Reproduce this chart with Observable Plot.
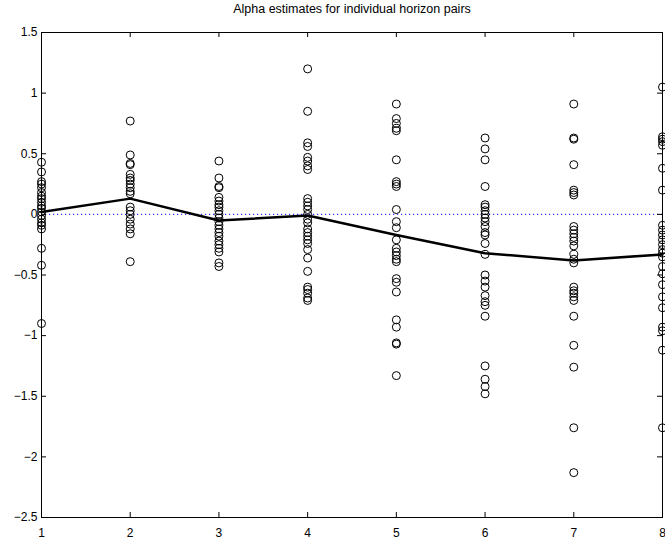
<!DOCTYPE html>
<html>
<head>
<meta charset="utf-8">
<script src="https://cdn.jsdelivr.net/npm/d3@7"></script>
<script src="https://cdn.jsdelivr.net/npm/@observablehq/plot@0.6"></script>
<style>body{margin:0;background:#fff}</style>
</head>
<body>
<div id="chart"></div>
<script>
const title = "Alpha estimates for individual horizon pairs";
const horizons = [1, 2, 3, 4, 5, 6, 7, 8];
const xTicks = [1, 2, 3, 4, 5, 6, 7, 8];
const yTicks = [-2.5, -2, -1.5, -1, -0.5, 0, 0.5, 1, 1.5];

const alpha1 = [0.43, 0.35, 0.27, 0.25, 0.22, 0.18, 0.15, 0.13, 0.10, 0.07, 0.05, 0.02, -0.01, -0.04, -0.07, -0.09, -0.12, -0.28, -0.42, -0.90];
const alpha2 = [0.77, 0.49, 0.42, 0.41, 0.33, 0.30, 0.28, 0.25, 0.22, 0.19, 0.17, 0.06, 0.03, 0.00, -0.04, -0.08, -0.12, -0.16, -0.39];
const alpha3 = [0.44, 0.30, 0.23, 0.22, 0.14, 0.11, 0.08, 0.06, 0.03, 0.00, -0.03, -0.06, -0.09, -0.12, -0.15, -0.18, -0.22, -0.25, -0.28, -0.31, -0.40, -0.43];
const alpha4 = [1.20, 0.85, 0.59, 0.56, 0.47, 0.44, 0.40, 0.37, 0.13, 0.10, 0.07, 0.04, 0.00, -0.04, -0.07, -0.12, -0.15, -0.18, -0.21, -0.24, -0.29, -0.36, -0.47, -0.60, -0.62, -0.65, -0.69, -0.71];
const alpha5 = [0.91, 0.79, 0.75, 0.71, 0.69, 0.45, 0.27, 0.25, 0.23, 0.04, -0.06, -0.11, -0.21, -0.28, -0.31, -0.34, -0.37, -0.39, -0.53, -0.56, -0.64, -0.87, -0.93, -1.06, -1.07, -1.33];
const alpha6 = [0.63, 0.54, 0.45, 0.23, 0.08, 0.06, 0.03, 0.00, -0.03, -0.06, -0.10, -0.15, -0.17, -0.24, -0.33, -0.50, -0.55, -0.60, -0.67, -0.72, -0.75, -0.84, -1.25, -1.36, -1.42, -1.48];
const alpha7 = [0.91, 0.63, 0.62, 0.41, 0.20, 0.18, 0.16, -0.10, -0.13, -0.16, -0.19, -0.22, -0.26, -0.33, -0.37, -0.40, -0.60, -0.63, -0.65, -0.68, -0.71, -0.84, -1.08, -1.26, -1.76, -2.13];
const alpha8 = [1.05, 0.64, 0.62, 0.60, 0.57, 0.38, 0.20, -0.09, -0.13, -0.17, -0.21, -0.25, -0.29, -0.32, -0.35, -0.43, -0.49, -0.58, -0.68, -0.77, -0.93, -0.96, -1.12, -1.76];
const meanAlpha = [0.02, 0.13, -0.05, -0.01, -0.17, -0.32, -0.38, -0.33];

const columns = [alpha1, alpha2, alpha3, alpha4, alpha5, alpha6, alpha7, alpha8];
const points = columns.flatMap((vals, i) => vals.map(v => ({h: horizons[i], a: v})));
const means = horizons.map((h, i) => ({h, a: meanAlpha[i]}));

const W = 665, H = 539, mt = 32, mb = 22, ml = 41, mr = 3;
const fw = W - ml - mr, fh = H - mt - mb;
const fmt = d => d < 0 ? "\u2212" + Math.abs(d) : String(d);

const chart = Plot.plot({
  width: W, height: H,
  marginTop: mt, marginBottom: mb, marginLeft: ml, marginRight: mr,
  style: {fontFamily: "'Liberation Sans', Arial, sans-serif", fontSize: "12px", background: "white", color: "black"},
  x: {domain: [1, 8]},
  y: {domain: [-2.5, 1.5]},
  marks: [
    Plot.ruleY([0], {stroke: "#3333ff", strokeWidth: 1.2, strokeDasharray: "1.2,2.8"}),
    Plot.dot(points, {x: "h", y: "a", r: 4, stroke: "black", strokeWidth: 1, fill: "none"}),
    Plot.line(means, {x: "h", y: "a", stroke: "black", strokeWidth: 2.5}),
    Plot.frame({stroke: "black"}),
    Plot.tickX(xTicks, {x: d => d, insetTop: fh - 5}),
    Plot.tickX(xTicks, {x: d => d, insetBottom: fh - 5}),
    Plot.tickY(yTicks, {y: d => d, insetRight: fw - 5}),
    Plot.tickY(yTicks, {y: d => d, insetLeft: fw - 5}),
    Plot.axisX(xTicks, {tickSize: 0, tickPadding: 11, tickFormat: d => String(d), label: null}),
    Plot.axisY(yTicks, {tickSize: 0, tickPadding: 4, tickFormat: fmt, label: null}),
    Plot.text([title], {frameAnchor: "top", lineAnchor: "middle", dy: -24, text: d => d, fontSize: 12.5})
  ]
});
document.getElementById("chart").append(chart);
</script>
</body>
</html>
